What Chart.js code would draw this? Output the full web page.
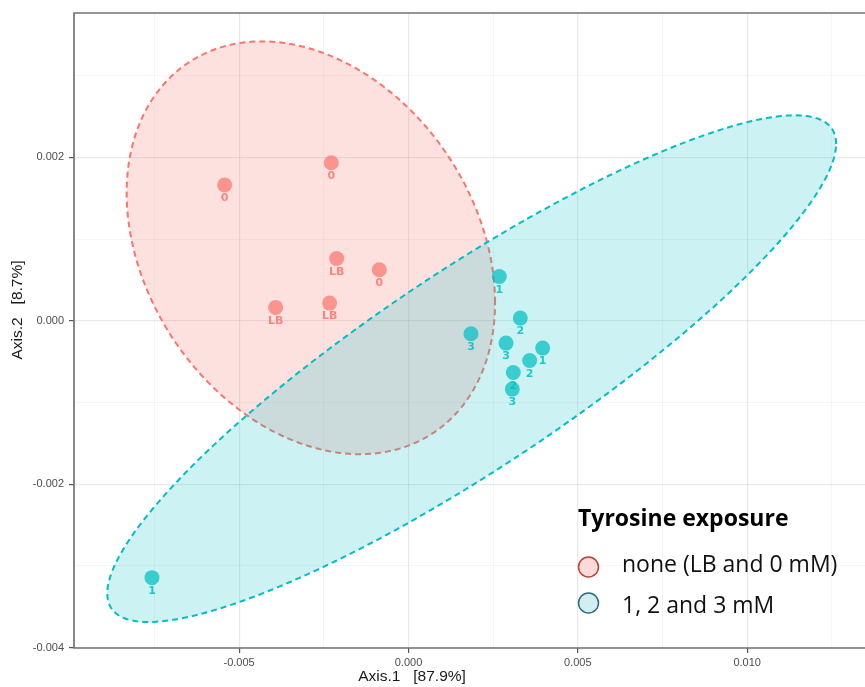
<!DOCTYPE html>
<html>
<head>
<meta charset="utf-8">
<script src="https://cdn.jsdelivr.net/npm/chart.js@4.4.1/dist/chart.umd.min.js"></script>
<style>
  html, body { margin: 0; padding: 0; background: #ffffff; }
  #wrap { width: 865px; height: 687px; position: relative; }
</style>
</head>
<body>
<div id="wrap"><canvas id="c" width="865" height="687"></canvas></div>
<script>
// ---------------- data ----------------
const noneX = [-0.005427, -0.002279, -0.00212, -0.000862, -0.003921, -0.002327];
const noneY = [0.001662, 0.001935, 0.000763, 0.000625, 0.000163, 0.000217];
const noneLabels = ['0', '0', 'LB', '0', 'LB', 'LB'];

const tyrX = [0.002681, 0.003301, 0.001845, 0.002879, 0.003962, 0.003578, 0.003094, 0.003065, -0.007573];
const tyrY = [0.000543, 0.000033, -0.000159, -0.000273, -0.000334, -0.000486, -0.000633, -0.000836, -0.003144];
const tyrLabels = ['1', '2', '3', '3', '1', '2', '2', '3', '1'];

// confidence ellipses: centre [x, y] and covariance-like shape [sxx, syy, sxy]
const noneEllipseCenter = [-0.002882, 0.000894];
const noneEllipseShape = [2.9576e-5, 6.3838e-6, -3.652e-6];
const tyrEllipseCenter = [0.001866, -0.0005854];
const tyrEllipseShape = [1.15754e-4, 9.617e-6, 2.9597e-5];

const xMajorTicks = [-0.005, 0.000, 0.005, 0.010];
const xMinorTicks = [-0.0075, -0.0025, 0.0025, 0.0075, 0.0125];
const yMajorTicks = [-0.004, -0.002, 0.000, 0.002];
const yMinorTicks = [-0.003, -0.001, 0.001, 0.003];

const xTitle = 'Axis.1   [87.9%]';
const yTitle = 'Axis.2   [8.7%]';
const legendTitle = 'Tyrosine exposure';
const legendLabels = ['none (LB and 0 mM)', '1, 2 and 3 mM'];

// ---------------- styles ----------------
const RED = 'rgba(248,118,109,0.72)';
const BLUE = 'rgba(0,191,196,0.72)';

function isMajor(list, v) { return list.some(m => Math.abs(m - v) < 1e-9); }

const ellipsePlugin = {
  id: 'ellipses',
  beforeDatasetsDraw(chart) {
    const ctx = chart.ctx, xs = chart.scales.x, ys = chart.scales.y, a = chart.chartArea;
    function draw(c, s, fill, stroke) {
      const p = Math.sqrt(s[0]);
      const q = s[2] / p;
      const r = Math.sqrt(s[1] - q * q);
      ctx.beginPath();
      for (let i = 0; i <= 360; i++) {
        const t = i * Math.PI / 180;
        const dx = p * Math.cos(t);
        const dy = q * Math.cos(t) + r * Math.sin(t);
        const px = xs.getPixelForValue(c[0] + dx);
        const py = ys.getPixelForValue(c[1] + dy);
        if (i === 0) ctx.moveTo(px, py); else ctx.lineTo(px, py);
      }
      ctx.closePath();
      ctx.fillStyle = fill;
      ctx.fill();
      ctx.setLineDash([6, 4]);
      ctx.lineWidth = 2;
      ctx.strokeStyle = stroke;
      ctx.stroke();
      ctx.setLineDash([]);
    }
    ctx.save();
    ctx.beginPath();
    ctx.rect(a.left, a.top, a.right - a.left, a.bottom - a.top);
    ctx.clip();
    draw(noneEllipseCenter, noneEllipseShape, 'rgba(248,118,109,0.22)', '#F8766D');
    draw(tyrEllipseCenter, tyrEllipseShape, 'rgba(0,191,196,0.2)', '#00BFC4');
    ctx.restore();
  }
};

const labelPlugin = {
  id: 'pointLabels',
  afterDatasetsDraw(chart) {
    const ctx = chart.ctx;
    ctx.save();
    ctx.font = 'bold 11px "DejaVu Sans"';
    ctx.textAlign = 'center';
    ctx.textBaseline = 'middle';
    [[0, noneLabels, 'rgba(248,118,109,0.85)'], [1, tyrLabels, 'rgba(0,191,196,0.85)']].forEach(([di, labels, col]) => {
      const meta = chart.getDatasetMeta(di);
      ctx.fillStyle = col;
      meta.data.forEach((pt, i) => {
        ctx.fillText(labels[i], pt.x, pt.y + 13.5);
      });
    });
    ctx.restore();
  }
};

const framePlugin = {
  id: 'frame',
  afterDraw(chart) {
    const ctx = chart.ctx, a = chart.chartArea;
    ctx.save();
    ctx.strokeStyle = '#737373';
    ctx.lineWidth = 1.7;
    ctx.beginPath();
    ctx.moveTo(chart.width + 2, a.top);
    ctx.lineTo(a.left, a.top);
    ctx.lineTo(a.left, a.bottom);
    ctx.lineTo(chart.width + 2, a.bottom);
    ctx.stroke();

    // axis titles
    ctx.fillStyle = '#1a1a1a';
    ctx.font = '15.5px "Liberation Sans", Arial, sans-serif';
    ctx.textAlign = 'center';
    ctx.textBaseline = 'middle';
    ctx.fillText(xTitle, 412, 677);
    ctx.save();
    ctx.translate(18, 310);
    ctx.rotate(-Math.PI / 2);
    ctx.fillText(yTitle, 0, 0);
    ctx.restore();

    // legend
    ctx.textAlign = 'left';
    ctx.textBaseline = 'alphabetic';
    ctx.fillStyle = '#000000';
    ctx.font = 'bold 23px "Open Sans", sans-serif';
    ctx.fillText(legendTitle, 578, 526);
    ctx.font = '23px "Open Sans", sans-serif';
    ctx.fillStyle = '#111111';
    ctx.fillText(legendLabels[0], 622, 572);
    ctx.fillText(legendLabels[1], 622, 613);
    const items = [[567, '#FBDAD7', '#B8423C'], [603, '#D3EEF3', '#2E6E7A']];
    items.forEach(([cy, f, s]) => {
      ctx.beginPath();
      ctx.arc(588.5, cy, 10, 0, Math.PI * 2);
      ctx.fillStyle = f;
      ctx.fill();
      ctx.lineWidth = 1.5;
      ctx.strokeStyle = s;
      ctx.stroke();
    });
    ctx.restore();
  }
};

const tickFont = { family: '"Liberation Sans", Arial, sans-serif', size: 11 };

new Chart(document.getElementById('c'), {
  type: 'scatter',
  data: {
    datasets: [
      {
        label: legendLabels[0],
        data: noneX.map((x, i) => ({ x: x, y: noneY[i] })),
        backgroundColor: RED,
        borderWidth: 0,
        pointRadius: 7.5,
        pointHoverRadius: 7.5
      },
      {
        label: legendLabels[1],
        data: tyrX.map((x, i) => ({ x: x, y: tyrY[i] })),
        backgroundColor: BLUE,
        borderWidth: 0,
        pointRadius: 7.5,
        pointHoverRadius: 7.5
      }
    ]
  },
  options: {
    responsive: false,
    animation: false,
    events: [],
    layout: { autoPadding: false, padding: { top: 13, right: 0, bottom: 0, left: 0 } },
    plugins: { legend: { display: false }, tooltip: { enabled: false } },
    scales: {
      x: {
        type: 'linear',
        min: -0.009875,
        max: 0.013478,
        afterBuildTicks(s) { s.ticks = xMajorTicks.concat(xMinorTicks).sort((p, q) => p - q).map(v => ({ value: v })); },
        afterFit(s) { s.height = 39; s.paddingLeft = 0; s.paddingRight = 0; },
        border: { display: false },
        grid: {
          color: c => isMajor(xMajorTicks, c.tick.value) ? 'rgba(0,0,0,0.085)' : 'rgba(0,0,0,0.05)',
          lineWidth: c => isMajor(xMajorTicks, c.tick.value) ? 1.2 : 0.8,
          tickColor: c => isMajor(xMajorTicks, c.tick.value) ? '#555555' : 'rgba(0,0,0,0)',
          tickLength: 5,
          tickWidth: 1.2
        },
        ticks: {
          autoSkip: false,
          maxRotation: 0,
          padding: 3,
          color: '#4d4d4d',
          font: tickFont,
          callback: v => isMajor(xMajorTicks, v) ? v.toFixed(3) : ''
        }
      },
      y: {
        type: 'linear',
        min: -0.004005,
        max: 0.003768,
        afterBuildTicks(s) { s.ticks = yMajorTicks.concat(yMinorTicks).sort((p, q) => p - q).map(v => ({ value: v })); },
        afterFit(s) { s.width = 74; s.paddingTop = 0; s.paddingBottom = 0; },
        border: { display: false },
        grid: {
          color: c => isMajor(yMajorTicks, c.tick.value) ? 'rgba(0,0,0,0.085)' : 'rgba(0,0,0,0.05)',
          lineWidth: c => isMajor(yMajorTicks, c.tick.value) ? 1.2 : 0.8,
          tickColor: c => isMajor(yMajorTicks, c.tick.value) ? '#555555' : 'rgba(0,0,0,0)',
          tickLength: 5,
          tickWidth: 1.2
        },
        ticks: {
          autoSkip: false,
          padding: 5,
          color: '#4d4d4d',
          font: tickFont,
          callback: v => isMajor(yMajorTicks, v) ? v.toFixed(3) : ''
        }
      }
    }
  },
  plugins: [ellipsePlugin, labelPlugin, framePlugin]
});
</script>
</body>
</html>
